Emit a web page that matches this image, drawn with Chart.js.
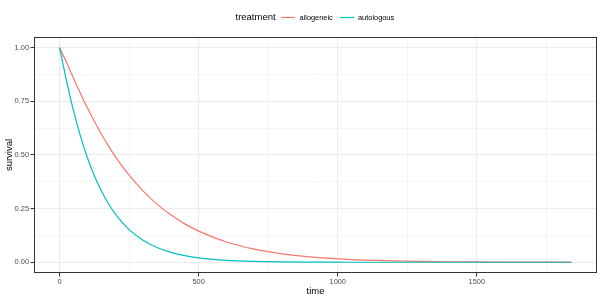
<!DOCTYPE html>
<html>
<head>
<meta charset="utf-8">
<script src="https://cdn.jsdelivr.net/npm/chart.js@4"></script>
<style>
  html, body { margin: 0; padding: 0; background: #fff; }
  #c { display: block; }
</style>
</head>
<body>
<canvas id="c" width="600" height="300"></canvas>
<script>
// ---- data ----
const times = [0, 25, 50, 75, 100, 125, 150, 175, 200, 250, 300, 350, 400, 450, 500, 600, 700, 800, 900, 1000, 1100, 1200, 1300, 1400, 1500, 1600, 1700, 1840];
const allogeneic = [1.000, 0.931, 0.858, 0.787, 0.720, 0.657, 0.598, 0.544, 0.494, 0.406, 0.333, 0.271, 0.221, 0.179, 0.145, 0.0945, 0.0611, 0.0393, 0.0251, 0.0160, 0.0101, 0.0064, 0.0040, 0.0025, 0.0016, 0.0010, 0.0006, 0.0003];
const autologous = [1.000, 0.846, 0.707, 0.588, 0.487, 0.403, 0.333, 0.274, 0.226, 0.152, 0.1025, 0.0687, 0.0459, 0.0306, 0.0204, 0.0090, 0.0039, 0.0017, 0.0007, 0.0003, 0.0001, 0.0000, 0.0000, 0.0000, 0.0000, 0.0000, 0.0000, 0.0000];
const seriesNames = ['allogeneic', 'autologous'];
const legendTitle = 'treatment';
const xTickValues = [0, 250, 500, 750, 1000, 1250, 1500, 1750];
const xTickLabels = ['0', '500', '1000', '1500'];
const yTickValues = [0, 0.125, 0.25, 0.375, 0.5, 0.625, 0.75, 0.875, 1];
const yTickLabels = ['0.00', '0.25', '0.50', '0.75', '1.00'];
const xTitle = 'time';
const yTitle = 'survival';

const colors = ['#F8766D', '#00BFC4'];
const FONT = '"Liberation Sans", Arial, Helvetica, sans-serif';

function pts(xs, ys) { return xs.map((x, i) => ({ x: x, y: ys[i] })); }

const isMajorX = v => Math.abs(v % 500) < 1e-6;
const isMajorY = v => Math.abs((v * 4) - Math.round(v * 4)) < 1e-6;

const decor = {
  id: 'decor',
  afterDatasetsDraw(chart) {
    const ctx = chart.ctx, a = chart.chartArea;
    ctx.save();
    ctx.strokeStyle = '#333333';
    ctx.lineWidth = 1;
    ctx.strokeRect(a.left + 0.5, a.top + 0.5, a.right - a.left - 1, a.bottom - a.top - 1);
    ctx.restore();
  },
  afterDraw(chart) {
    const ctx = chart.ctx, a = chart.chartArea;
    ctx.save();
    ctx.fillStyle = '#000';
    // axis titles
    ctx.font = '9.5px ' + FONT;
    ctx.textAlign = 'center';
    ctx.textBaseline = 'middle';
    ctx.fillText(xTitle, (a.left + a.right) / 2, 291);
    ctx.save();
    ctx.translate(9, (a.top + a.bottom) / 2);
    ctx.rotate(-Math.PI / 2);
    ctx.fillText(yTitle, 0, 0);
    ctx.restore();
    // legend
    const ly = 17.5;
    ctx.textAlign = 'left';
    ctx.font = '9.5px ' + FONT;
    ctx.fillText(legendTitle, 235.5, ly);
    const keys = [[281, 295, 299.5], [340, 354, 358]];
    ctx.font = '7.4px ' + FONT;
    seriesNames.forEach((n, i) => {
      const k = keys[i];
      ctx.strokeStyle = colors[i];
      ctx.lineWidth = 1.2;
      ctx.beginPath();
      ctx.moveTo(k[0], ly);
      ctx.lineTo(k[1], ly);
      ctx.stroke();
      ctx.fillStyle = '#000';
      ctx.fillText(n, k[2], ly);
    });
    ctx.restore();
  }
};

new Chart(document.getElementById('c'), {
  type: 'line',
  data: {
    datasets: [
      { label: seriesNames[0], data: pts(times, allogeneic), borderColor: colors[0], borderWidth: 1.2, pointRadius: 0, cubicInterpolationMode: 'monotone', fill: false, order: 1 },
      { label: seriesNames[1], data: pts(times, autologous), borderColor: colors[1], borderWidth: 1.2, pointRadius: 0, cubicInterpolationMode: 'monotone', fill: false, order: 0 }
    ]
  },
  options: {
    responsive: false,
    animation: false,
    devicePixelRatio: 1,
    layout: { padding: { top: 37, right: 3, left: 0, bottom: 0 } },
    plugins: { legend: { display: false }, tooltip: { enabled: false } },
    scales: {
      x: {
        type: 'linear',
        min: -92, max: 1932,
        afterBuildTicks: s => { s.ticks = xTickValues.map(v => ({ value: v })); },
        afterFit: s => { s.height = 27; },
        border: { display: false },
        grid: {
          color: c => '#EBEBEB',
          lineWidth: c => isMajorX(c.tick.value) ? 1.1 : 0.55,
          tickColor: c => isMajorX(c.tick.value) ? '#333333' : 'rgba(0,0,0,0)',
          tickLength: 3.5,
          tickWidth: 1
        },
        ticks: {
          autoSkip: false, maxRotation: 0, padding: 1,
          color: '#4D4D4D',
          font: { family: FONT, size: 7.4 },
          callback: v => isMajorX(v) ? xTickLabels[Math.round(v / 500)] : ''
        }
      },
      y: {
        type: 'linear',
        min: -0.05, max: 1.05,
        afterBuildTicks: s => { s.ticks = yTickValues.map(v => ({ value: v })); },
        afterFit: s => { s.width = 34; },
        border: { display: false },
        grid: {
          color: c => '#EBEBEB',
          lineWidth: c => isMajorY(c.tick.value) ? 1.1 : 0.55,
          tickColor: c => isMajorY(c.tick.value) ? '#333333' : 'rgba(0,0,0,0)',
          tickLength: 3.5,
          tickWidth: 1
        },
        ticks: {
          autoSkip: false, padding: 1.5,
          color: '#4D4D4D',
          font: { family: FONT, size: 7.4 },
          callback: v => isMajorY(v) ? yTickLabels[Math.round(v * 4)] : ''
        }
      }
    }
  },
  plugins: [decor]
});
</script>
</body>
</html>
